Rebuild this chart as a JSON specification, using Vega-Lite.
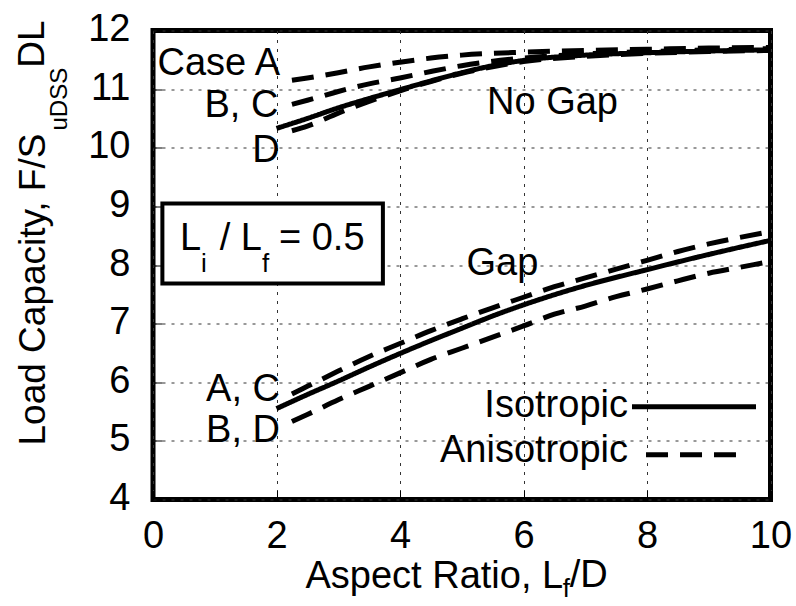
{
  "$schema": "https://vega.github.io/schema/vega-lite/v6.json",
  "width": 617.5,
  "height": 469,
  "autosize": {"type": "none"},
  "padding": {"left": 153, "top": 30.5, "right": 25.5, "bottom": 106.5},
  "background": "white",
  "config": {
    "font": "Liberation Sans",
    "view": {"stroke": "black", "strokeWidth": 5},
    "axis": {
      "grid": true,
      "gridDash": [3, 6],
      "gridColor": "#333",
      "gridWidth": 1,
      "gridOpacity": 1,
      "domain": false,
      "tickSize": -9,
      "tickColor": "black",
      "tickWidth": 1,
      "labelFontSize": 38,
      "labelColor": "black",
      "labelFont": "Liberation Sans",
      "labelFlush": false,
      "labelOverlap": false,
      "titleFont": "Liberation Sans",
      "titleFontWeight": "normal",
      "titleColor": "black"
    },
    "text": {"font": "Liberation Sans", "color": "black"}
  },
  "datasets": {
    "curves": [
      {"series": "NoGap-Iso", "type": "Isotropic", "x": 2, "y": 10.33},
      {"series": "NoGap-Iso", "type": "Isotropic", "x": 2.5, "y": 10.5},
      {"series": "NoGap-Iso", "type": "Isotropic", "x": 3, "y": 10.68},
      {"series": "NoGap-Iso", "type": "Isotropic", "x": 3.5, "y": 10.84},
      {"series": "NoGap-Iso", "type": "Isotropic", "x": 4, "y": 10.99},
      {"series": "NoGap-Iso", "type": "Isotropic", "x": 4.5, "y": 11.14},
      {"series": "NoGap-Iso", "type": "Isotropic", "x": 5, "y": 11.28},
      {"series": "NoGap-Iso", "type": "Isotropic", "x": 5.5, "y": 11.4},
      {"series": "NoGap-Iso", "type": "Isotropic", "x": 6, "y": 11.49},
      {"series": "NoGap-Iso", "type": "Isotropic", "x": 7, "y": 11.58},
      {"series": "NoGap-Iso", "type": "Isotropic", "x": 8, "y": 11.62},
      {"series": "NoGap-Iso", "type": "Isotropic", "x": 9, "y": 11.65},
      {"series": "NoGap-Iso", "type": "Isotropic", "x": 10, "y": 11.67},

      {"series": "NoGap-A", "type": "Anisotropic", "x": 2.25, "y": 11.15},
      {"series": "NoGap-A", "type": "Anisotropic", "x": 2.5, "y": 11.19},
      {"series": "NoGap-A", "type": "Anisotropic", "x": 3, "y": 11.28},
      {"series": "NoGap-A", "type": "Anisotropic", "x": 3.5, "y": 11.38},
      {"series": "NoGap-A", "type": "Anisotropic", "x": 4, "y": 11.46},
      {"series": "NoGap-A", "type": "Anisotropic", "x": 4.5, "y": 11.53},
      {"series": "NoGap-A", "type": "Anisotropic", "x": 5, "y": 11.58},
      {"series": "NoGap-A", "type": "Anisotropic", "x": 6, "y": 11.63},
      {"series": "NoGap-A", "type": "Anisotropic", "x": 7, "y": 11.66},
      {"series": "NoGap-A", "type": "Anisotropic", "x": 8, "y": 11.68},
      {"series": "NoGap-A", "type": "Anisotropic", "x": 9, "y": 11.7},
      {"series": "NoGap-A", "type": "Anisotropic", "x": 10, "y": 11.71},

      {"series": "NoGap-BC", "type": "Anisotropic", "x": 2.25, "y": 10.74},
      {"series": "NoGap-BC", "type": "Anisotropic", "x": 2.5, "y": 10.81},
      {"series": "NoGap-BC", "type": "Anisotropic", "x": 3, "y": 10.96},
      {"series": "NoGap-BC", "type": "Anisotropic", "x": 3.5, "y": 11.09},
      {"series": "NoGap-BC", "type": "Anisotropic", "x": 4, "y": 11.19},
      {"series": "NoGap-BC", "type": "Anisotropic", "x": 4.5, "y": 11.3},
      {"series": "NoGap-BC", "type": "Anisotropic", "x": 5, "y": 11.4},
      {"series": "NoGap-BC", "type": "Anisotropic", "x": 6, "y": 11.53},
      {"series": "NoGap-BC", "type": "Anisotropic", "x": 7, "y": 11.6},
      {"series": "NoGap-BC", "type": "Anisotropic", "x": 8, "y": 11.64},
      {"series": "NoGap-BC", "type": "Anisotropic", "x": 9, "y": 11.67},
      {"series": "NoGap-BC", "type": "Anisotropic", "x": 10, "y": 11.69},

      {"series": "NoGap-D", "type": "Anisotropic", "x": 2.25, "y": 10.29},
      {"series": "NoGap-D", "type": "Anisotropic", "x": 2.5, "y": 10.37},
      {"series": "NoGap-D", "type": "Anisotropic", "x": 3, "y": 10.59},
      {"series": "NoGap-D", "type": "Anisotropic", "x": 3.5, "y": 10.79},
      {"series": "NoGap-D", "type": "Anisotropic", "x": 4, "y": 10.97},
      {"series": "NoGap-D", "type": "Anisotropic", "x": 4.5, "y": 11.13},
      {"series": "NoGap-D", "type": "Anisotropic", "x": 5, "y": 11.27},
      {"series": "NoGap-D", "type": "Anisotropic", "x": 6, "y": 11.47},
      {"series": "NoGap-D", "type": "Anisotropic", "x": 7, "y": 11.56},
      {"series": "NoGap-D", "type": "Anisotropic", "x": 8, "y": 11.61},
      {"series": "NoGap-D", "type": "Anisotropic", "x": 9, "y": 11.64},
      {"series": "NoGap-D", "type": "Anisotropic", "x": 10, "y": 11.66},

      {"series": "Gap-Iso", "type": "Isotropic", "x": 2, "y": 5.55},
      {"series": "Gap-Iso", "type": "Isotropic", "x": 2.5, "y": 5.79},
      {"series": "Gap-Iso", "type": "Isotropic", "x": 3, "y": 6.02},
      {"series": "Gap-Iso", "type": "Isotropic", "x": 3.5, "y": 6.26},
      {"series": "Gap-Iso", "type": "Isotropic", "x": 4, "y": 6.49},
      {"series": "Gap-Iso", "type": "Isotropic", "x": 4.5, "y": 6.71},
      {"series": "Gap-Iso", "type": "Isotropic", "x": 5, "y": 6.92},
      {"series": "Gap-Iso", "type": "Isotropic", "x": 5.5, "y": 7.13},
      {"series": "Gap-Iso", "type": "Isotropic", "x": 6, "y": 7.32},
      {"series": "Gap-Iso", "type": "Isotropic", "x": 7, "y": 7.65},
      {"series": "Gap-Iso", "type": "Isotropic", "x": 8, "y": 7.92},
      {"series": "Gap-Iso", "type": "Isotropic", "x": 9, "y": 8.18},
      {"series": "Gap-Iso", "type": "Isotropic", "x": 10, "y": 8.42},

      {"series": "Gap-AC", "type": "Anisotropic", "x": 2.25, "y": 5.8},
      {"series": "Gap-AC", "type": "Anisotropic", "x": 2.5, "y": 5.93},
      {"series": "Gap-AC", "type": "Anisotropic", "x": 3, "y": 6.19},
      {"series": "Gap-AC", "type": "Anisotropic", "x": 3.5, "y": 6.44},
      {"series": "Gap-AC", "type": "Anisotropic", "x": 4, "y": 6.66},
      {"series": "Gap-AC", "type": "Anisotropic", "x": 4.5, "y": 6.88},
      {"series": "Gap-AC", "type": "Anisotropic", "x": 5, "y": 7.08},
      {"series": "Gap-AC", "type": "Anisotropic", "x": 5.5, "y": 7.27},
      {"series": "Gap-AC", "type": "Anisotropic", "x": 6, "y": 7.45},
      {"series": "Gap-AC", "type": "Anisotropic", "x": 6.5, "y": 7.63},
      {"series": "Gap-AC", "type": "Anisotropic", "x": 7, "y": 7.78},
      {"series": "Gap-AC", "type": "Anisotropic", "x": 7.5, "y": 7.93},
      {"series": "Gap-AC", "type": "Anisotropic", "x": 8, "y": 8.08},
      {"series": "Gap-AC", "type": "Anisotropic", "x": 8.5, "y": 8.23},
      {"series": "Gap-AC", "type": "Anisotropic", "x": 9, "y": 8.36},
      {"series": "Gap-AC", "type": "Anisotropic", "x": 9.5, "y": 8.47},
      {"series": "Gap-AC", "type": "Anisotropic", "x": 10, "y": 8.57},

      {"series": "Gap-BD", "type": "Anisotropic", "x": 2.25, "y": 5.33},
      {"series": "Gap-BD", "type": "Anisotropic", "x": 2.5, "y": 5.45},
      {"series": "Gap-BD", "type": "Anisotropic", "x": 3, "y": 5.7},
      {"series": "Gap-BD", "type": "Anisotropic", "x": 3.5, "y": 5.93},
      {"series": "Gap-BD", "type": "Anisotropic", "x": 4, "y": 6.16},
      {"series": "Gap-BD", "type": "Anisotropic", "x": 4.5, "y": 6.39},
      {"series": "Gap-BD", "type": "Anisotropic", "x": 5, "y": 6.58},
      {"series": "Gap-BD", "type": "Anisotropic", "x": 5.5, "y": 6.77},
      {"series": "Gap-BD", "type": "Anisotropic", "x": 6, "y": 6.96},
      {"series": "Gap-BD", "type": "Anisotropic", "x": 6.5, "y": 7.16},
      {"series": "Gap-BD", "type": "Anisotropic", "x": 7, "y": 7.3},
      {"series": "Gap-BD", "type": "Anisotropic", "x": 7.5, "y": 7.46},
      {"series": "Gap-BD", "type": "Anisotropic", "x": 8, "y": 7.59},
      {"series": "Gap-BD", "type": "Anisotropic", "x": 8.5, "y": 7.73},
      {"series": "Gap-BD", "type": "Anisotropic", "x": 9, "y": 7.86},
      {"series": "Gap-BD", "type": "Anisotropic", "x": 9.5, "y": 7.96},
      {"series": "Gap-BD", "type": "Anisotropic", "x": 10, "y": 8.06}
    ],
    "legend": [
      {"type": "Isotropic", "x": 7.757, "x2": 9.765, "y": 5.58},
      {"type": "Anisotropic", "x": 7.984, "x2": 9.441, "y": 4.765}
    ],
    "box": [
      {"x": 0.152, "x2": 3.723, "y": 9.051, "y2": 7.686}
    ],
    "labels": [
      {"role": "right", "text": "Case A", "x": 2.057, "y": 11.241},
      {"role": "right", "text": "B, C", "x": 2.03, "y": 10.53},
      {"role": "right", "text": "D", "x": 2.05, "y": 9.756},
      {"role": "right", "text": "No Gap", "x": 7.53, "y": 10.575},
      {"role": "right", "text": "Gap", "x": 6.24, "y": 7.828},
      {"role": "right", "text": "A, C", "x": 2.057, "y": 5.677},
      {"role": "right", "text": "B, D", "x": 2.057, "y": 4.978},
      {"role": "right", "text": "Isotropic", "x": 7.692, "y": 5.405},
      {"role": "right", "text": "Anisotropic", "x": 7.692, "y": 4.637},
      {"role": "left", "text": "L", "x": 0.437, "y": 8.254},
      {"role": "left", "text": "/ L", "x": 1.079, "y": 8.254},
      {"role": "left", "text": "= 0.5", "x": 2.04, "y": 8.254},
      {"role": "left", "text": "/D", "x": 6.75, "y": 2.503},
      {"role": "sub", "text": "i", "x": 0.777, "y": 7.884},
      {"role": "sub", "text": "f", "x": 1.765, "y": 7.884},
      {"role": "sub", "text": "f", "x": 6.635, "y": 2.33},
      {"role": "vsub", "text": "uDSS", "x": -1.393, "y": 10.294},
      {"role": "vmain", "text": "DL", "x": -1.765, "y": 11.363}
    ]
  },
  "layer": [
    {
      "data": {"name": "curves"},
      "mark": {"type": "line", "color": "black", "strokeWidth": 5, "interpolate": "monotone", "strokeCap": "butt"},
      "encoding": {
        "x": {
          "field": "x", "type": "quantitative",
          "scale": {"domain": [0, 10], "nice": false, "zero": false},
          "axis": {
            "values": [0, 2, 4, 6, 8, 10],
            "format": "d",
            "title": "Aspect Ratio, L",
            "labelBaseline": "alphabetic",
            "labelPadding": 56.5,
            "titleFontSize": 38,
            "titleX": 152,
            "titleY": 87.5,
            "titleAlign": "left",
            "titleBaseline": "alphabetic"
          }
        },
        "y": {
          "field": "y", "type": "quantitative",
          "scale": {"domain": [4, 12], "nice": false, "zero": false},
          "axis": {
            "values": [4, 5, 6, 7, 8, 9, 10, 11, 12],
            "format": "d",
            "title": "Load Capacity, F/S",
            "labelPadding": 32,
            "labelBaseline": "middle",
            "labelOffset": -1,
            "titleFontSize": 37,
            "titleAngle": 270,
            "titleX": -109,
            "titleY": 414.5,
            "titleAlign": "left",
            "titleBaseline": "alphabetic"
          }
        },
        "detail": {"field": "series", "type": "nominal"},
        "strokeDash": {
          "field": "type", "type": "nominal",
          "scale": {"domain": ["Isotropic", "Anisotropic"], "range": [[1, 0], [22, 12]]},
          "legend": null
        }
      }
    },
    {
      "data": {"name": "legend"},
      "mark": {"type": "rule", "color": "black", "strokeWidth": 5, "strokeCap": "butt"},
      "encoding": {
        "x": {"field": "x", "type": "quantitative"},
        "x2": {"field": "x2"},
        "y": {"field": "y", "type": "quantitative"},
        "strokeDash": {"field": "type", "type": "nominal", "legend": null}
      }
    },
    {
      "data": {"name": "box"},
      "mark": {"type": "rect", "fill": "white", "stroke": "black", "strokeWidth": 4},
      "encoding": {
        "x": {"field": "x", "type": "quantitative"},
        "x2": {"field": "x2"},
        "y": {"field": "y", "type": "quantitative"},
        "y2": {"field": "y2"}
      }
    },
    {
      "data": {"name": "labels"},
      "transform": [{"filter": "datum.role === 'right'"}],
      "mark": {"type": "text", "align": "right", "baseline": "alphabetic", "fontSize": 38},
      "encoding": {
        "x": {"field": "x", "type": "quantitative"},
        "y": {"field": "y", "type": "quantitative"},
        "text": {"field": "text"}
      }
    },
    {
      "data": {"name": "labels"},
      "transform": [{"filter": "datum.role === 'left'"}],
      "mark": {"type": "text", "align": "left", "baseline": "alphabetic", "fontSize": 38},
      "encoding": {
        "x": {"field": "x", "type": "quantitative"},
        "y": {"field": "y", "type": "quantitative"},
        "text": {"field": "text"}
      }
    },
    {
      "data": {"name": "labels"},
      "transform": [{"filter": "datum.role === 'sub'"}],
      "mark": {"type": "text", "align": "left", "baseline": "alphabetic", "fontSize": 26},
      "encoding": {
        "x": {"field": "x", "type": "quantitative"},
        "y": {"field": "y", "type": "quantitative"},
        "text": {"field": "text"}
      }
    },
    {
      "data": {"name": "labels"},
      "transform": [{"filter": "datum.role === 'vsub'"}],
      "mark": {"type": "text", "align": "left", "baseline": "alphabetic", "fontSize": 24, "angle": 270},
      "encoding": {
        "x": {"field": "x", "type": "quantitative"},
        "y": {"field": "y", "type": "quantitative"},
        "text": {"field": "text"}
      }
    },
    {
      "data": {"name": "labels"},
      "transform": [{"filter": "datum.role === 'vmain'"}],
      "mark": {"type": "text", "align": "left", "baseline": "alphabetic", "fontSize": 37, "angle": 270},
      "encoding": {
        "x": {"field": "x", "type": "quantitative"},
        "y": {"field": "y", "type": "quantitative"},
        "text": {"field": "text"}
      }
    }
  ]
}
